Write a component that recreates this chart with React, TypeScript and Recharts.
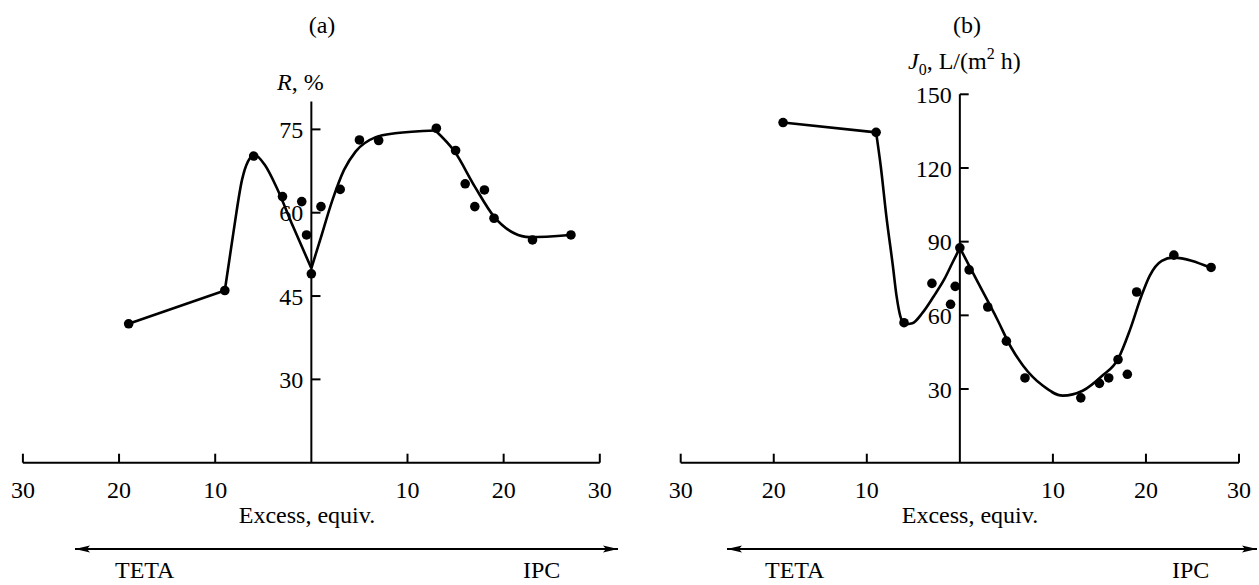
import React from "react";
import { ComposedChart, Line, Scatter, XAxis, YAxis, ReferenceLine } from "recharts";

const FONT = '"Liberation Serif", "Times New Roman", Times, serif';
const FS = 24;

const xTicks = [-30, -20, -10, 0, 10, 20, 30];
const rTicks = [30, 45, 60, 75];
const jTicks = [30, 60, 90, 120, 150];

// (a) rejection R, %
const aDotX = [-19, -9, -6, -3, -1, -0.5, 0, 1, 3, 5, 7, 13, 15, 16, 17, 18, 19, 23, 27];
const aDotY = [40, 46, 70.2, 62.9, 62, 56, 49, 61.1, 64.2, 73.1, 73, 75.2, 71.2, 65.2, 61.1, 64.1, 59, 55.1, 56];
const aSeg1X = [-19, -9];
const aSeg1Y = [40, 46];
const aSeg2X = [-9, -8.1, -7.2, -6.6, -5.9, -4.8, -3.6, -1.9, 0];
const aSeg2Y = [46, 56.5, 66, 69.2, 70.4, 68.5, 64.5, 57.5, 50];
const aSeg3X = [0, 0.9, 2.2, 3.4, 4.6, 6.7, 8.7, 12.9];
const aSeg3Y = [50, 55, 62.3, 67.7, 71, 73.6, 74.3, 74.8];
const aSeg4X = [12.9, 14.9, 17, 19, 21.1, 22.7, 26.9];
const aSeg4Y = [74.8, 71, 64.7, 59.3, 56.3, 55.6, 56];

// (b) flux J0
const bDotX = [-19, -9, -6, -3, -1, -0.5, 0, 1, 3, 5, 7, 13, 15, 16, 17, 18, 19, 23, 27];
const bDotY = [138.5, 134.5, 57, 73, 64.5, 71.8, 87.5, 78.5, 63.4, 49.5, 34.5, 26.4, 32.3, 34.5, 42, 36, 69.5, 84.5, 79.5];
const bSeg1X = [-19, -9];
const bSeg1Y = [138.5, 134.5];
const bSeg2X = [-9, -8.5, -7.9, -7.2, -6.8, -6.4, -5.9, -5.1, -4.0, -2.8, -1.7, -0.85, 0];
const bSeg2Y = [134.5, 120.7, 100.4, 80.2, 67.8, 59.7, 56.4, 56.8, 61.1, 67.8, 74.5, 81, 87.5];
const bSeg3X = [0, 2, 4, 5.5, 6.8, 8.9, 11.05, 13.2, 15.3, 17, 18.3, 19.5, 20.4, 21.7, 22.9, 26.9];
const bSeg3Y = [87.5, 73, 58.5, 47, 39.5, 31.4, 27.3, 29.3, 35.4, 42.2, 54.3, 67.8, 76.1, 82.2, 83.5, 79.5];

type Pt = { x: number; y: number };
const zip = (xs: number[], ys: number[]): Pt[] => xs.map((x, i) => ({ x, y: ys[i] }));

function XTick(props: any) {
  const { x, y, payload } = props;
  if (payload.value === 0) return <g />;
  return (
    <g>
      <line x1={x} x2={x} y1={y} y2={y - 9} stroke="#000" strokeWidth={2} />
      <text x={x} y={y + 35} textAnchor="middle" fontFamily={FONT} fontSize={FS} fill="#000">
        {Math.abs(payload.value)}
      </text>
    </g>
  );
}

const Dot = (props: any) => <circle cx={props.cx} cy={props.cy} r={4.8} fill="#000" />;

type Curve = { data: Pt[]; type: "linear" | "monotone" };

function Panel({
  width,
  height,
  margin,
  yDomain,
  yTicks,
  tickDx,
  curves,
  dots,
}: {
  width: number;
  height: number;
  margin: { top: number; right: number; bottom: number; left: number };
  yDomain: [number, number];
  yTicks: number[];
  tickDx: number;
  curves: Curve[];
  dots: Pt[];
}) {
  return (
    <ComposedChart width={width} height={height} margin={margin}>
      <XAxis
        type="number"
        dataKey="x"
        domain={[-30, 30]}
        ticks={xTicks}
        interval={0}
        height={30}
        axisLine={{ stroke: "#000", strokeWidth: 2 }}
        tickLine={false}
        tickSize={0}
        tickMargin={0}
        tick={<XTick />}
        allowDataOverflow
      />
      <YAxis type="number" dataKey="y" domain={yDomain} hide allowDataOverflow />
      <ReferenceLine x={0} stroke="#000" strokeWidth={2} ifOverflow="visible" />
      {yTicks.map((v) => (
        <ReferenceLine
          key={v}
          segment={[
            { x: 0, y: v },
            { x: tickDx, y: v },
          ]}
          stroke="#000"
          strokeWidth={2}
          ifOverflow="visible"
          label={{
            value: String(v),
            position: "left",
            offset: 8,
            fill: "#000",
            fontSize: FS,
            fontFamily: FONT,
          }}
        />
      ))}
      {curves.map((c, i) => (
        <Line
          key={i}
          data={c.data}
          dataKey="y"
          type={c.type}
          stroke="#000"
          strokeWidth={2.6}
          dot={false}
          activeDot={false}
          isAnimationActive={false}
        />
      ))}
      <Scatter data={dots} dataKey="y" shape={<Dot />} isAnimationActive={false} />
    </ComposedChart>
  );
}

const txt = { fontFamily: FONT, fontSize: FS, fill: "#000" } as const;

export default function App() {
  return (
    <div
      style={{
        position: "absolute",
        left: 0,
        top: 0,
        width: 1259,
        height: 585,
        background: "#fff",
        overflow: "hidden",
      }}
    >
      <div style={{ position: "absolute", left: 0, top: 0 }}>
        <Panel
          width={640}
          height={585}
          margin={{ top: 101.6, right: 40.2, bottom: 92.3, left: 22.9 }}
          yDomain={[15, 80]}
          yTicks={rTicks}
          tickDx={0.95}
          curves={[
            { data: zip(aSeg1X, aSeg1Y), type: "linear" },
            { data: zip(aSeg2X, aSeg2Y), type: "monotone" },
            { data: zip(aSeg3X, aSeg3Y), type: "monotone" },
            { data: zip(aSeg4X, aSeg4Y), type: "monotone" },
          ]}
          dots={zip(aDotX, aDotY)}
        />
      </div>
      <div style={{ position: "absolute", left: 640, top: 0 }}>
        <Panel
          width={619}
          height={585}
          margin={{ top: 94.3, right: 20, bottom: 92.3, left: 40.7 }}
          yDomain={[0, 150]}
          yTicks={jTicks}
          tickDx={0.95}
          curves={[
            { data: zip(bSeg1X, bSeg1Y), type: "linear" },
            { data: zip(bSeg2X, bSeg2Y), type: "monotone" },
            { data: zip(bSeg3X, bSeg3Y), type: "monotone" },
          ]}
          dots={zip(bDotX, bDotY)}
        />
      </div>
      <svg
        width={1259}
        height={585}
        style={{ position: "absolute", left: 0, top: 0, pointerEvents: "none" }}
      >
        <defs>
          <marker
            id="ah"
            markerUnits="userSpaceOnUse"
            markerWidth={16}
            markerHeight={8}
            refX={15}
            refY={4}
            orient="auto-start-reverse"
          >
            <path d="M0,0.5 L15,4 L0,7.5 L3,4 Z" fill="#000" />
          </marker>
        </defs>

        <text x={322} y={33} textAnchor="middle" {...txt}>(a)</text>
        <text x={277} y={90} {...txt}>
          <tspan fontStyle="italic">R</tspan>, %
        </text>
        <text x={307} y={523} textAnchor="middle" {...txt}>Excess, equiv.</text>
        <line x1={75} x2={618} y1={549} y2={549} stroke="#000" strokeWidth={2}
          markerStart="url(#ah)" markerEnd="url(#ah)" />
        <text x={115} y={578} {...txt}>TETA</text>
        <text x={523} y={578} {...txt}>IPC</text>

        <text x={967} y={33} textAnchor="middle" {...txt}>(b)</text>
        <text x={908} y={69} {...txt}>
          <tspan fontStyle="italic">J</tspan>
          <tspan fontSize={16} dy={6}>0</tspan>
          <tspan dy={-6}>, L/(m</tspan>
          <tspan fontSize={16} dy={-10}>2</tspan>
          <tspan dy={10}> h)</tspan>
        </text>
        <text x={970} y={523} textAnchor="middle" {...txt}>Excess, equiv.</text>
        <line x1={727} x2={1257} y1={549} y2={549} stroke="#000" strokeWidth={2}
          markerStart="url(#ah)" markerEnd="url(#ah)" />
        <text x={765} y={578} {...txt}>TETA</text>
        <text x={1172} y={578} {...txt}>IPC</text>
      </svg>
    </div>
  );
}
